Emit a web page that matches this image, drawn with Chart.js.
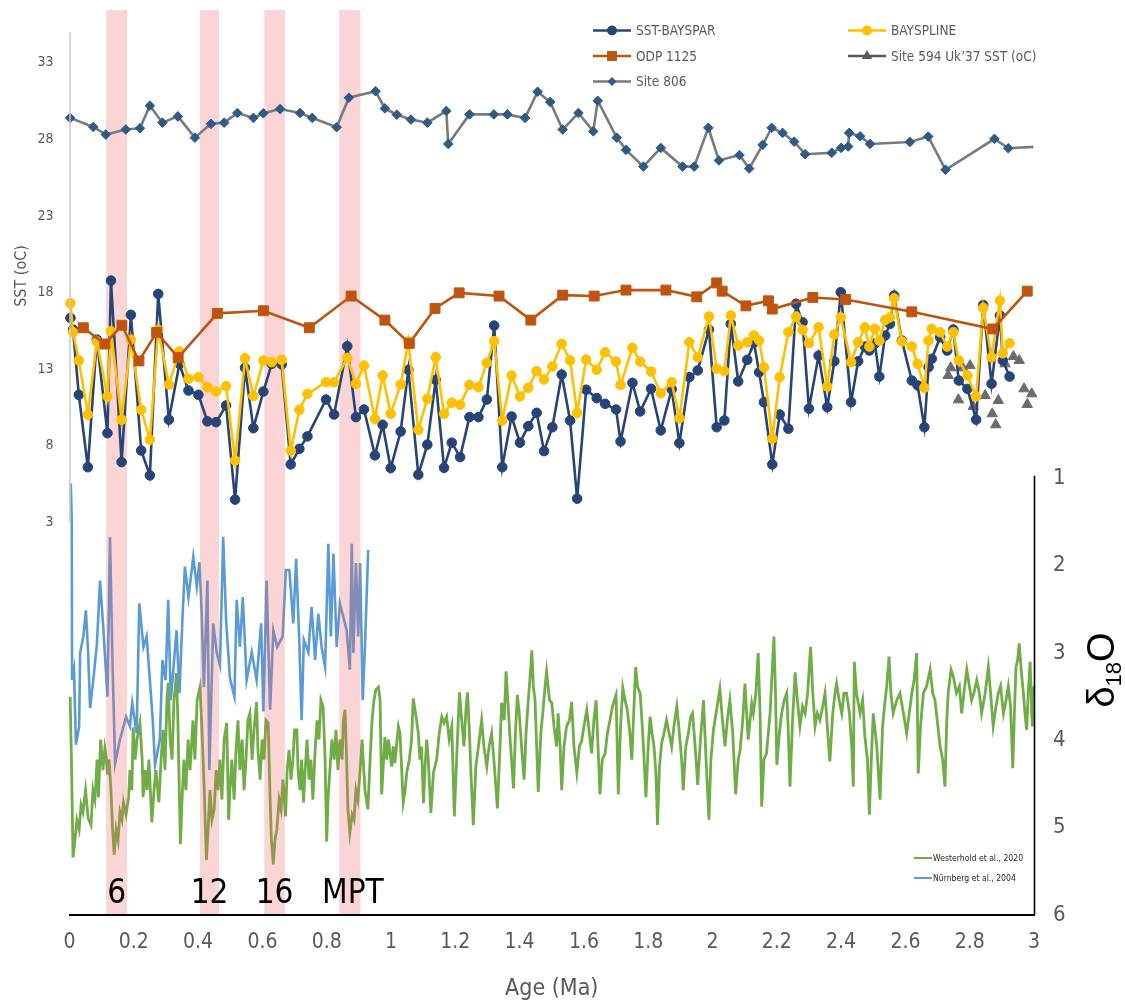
<!DOCTYPE html>
<html>
<head>
<meta charset="utf-8">
<script src="https://cdn.jsdelivr.net/npm/chart.js@4.4.1/dist/chart.umd.min.js"></script>
<style>
  html, body { margin: 0; padding: 0; background: #ffffff; }
  #wrap { width: 1125px; height: 1007px; position: relative; }
</style>
</head>
<body>
<div id="wrap"><canvas id="c" width="1125" height="1007"></canvas></div>
<script>
// ---------- UK'37 SST samples (BAYSPAR and BAYSPLINE calibrations share ages) ----------
const sampleAge = [
  0.003, 0.011, 0.029, 0.057, 0.085, 0.118, 0.129, 0.162, 0.191, 0.223,
  0.250, 0.276, 0.309, 0.342, 0.370, 0.401, 0.429, 0.456, 0.487, 0.515,
  0.546, 0.572, 0.603, 0.629, 0.660, 0.688, 0.715, 0.740, 0.798, 0.823,
  0.864, 0.891, 0.916, 0.950, 0.974, 0.999, 1.030, 1.054, 1.085, 1.113,
  1.139, 1.165, 1.189, 1.215, 1.244, 1.272, 1.298, 1.321, 1.346, 1.375,
  1.401, 1.427, 1.453, 1.476, 1.502, 1.531, 1.557, 1.579, 1.607, 1.640,
  1.666, 1.700, 1.714, 1.751, 1.775, 1.809, 1.839, 1.873, 1.897, 1.928,
  1.954, 1.989, 2.013, 2.037, 2.057, 2.080, 2.108, 2.129, 2.145, 2.160,
  2.186, 2.209, 2.236, 2.260, 2.280, 2.300, 2.330, 2.357, 2.379, 2.399,
  2.431, 2.453, 2.474, 2.488, 2.505, 2.519, 2.537, 2.552, 2.565, 2.589,
  2.620, 2.638, 2.659, 2.672, 2.682, 2.708, 2.730, 2.749, 2.766, 2.793,
  2.820, 2.842, 2.868, 2.894, 2.903, 2.924
];
const sstBayspar = [
  16.33, 15.57, 11.31, 6.58, 14.92, 8.80, 18.77, 6.91, 16.53, 7.67,
  6.04, 17.90, 9.68, 13.33, 11.59, 11.31, 9.57, 9.52, 10.61, 4.46,
  13.07, 9.13, 11.52, 13.33, 13.29, 6.76, 7.78, 8.59, 11.00, 10.02,
  14.48, 9.85, 10.35, 7.35, 9.35, 6.52, 8.91, 12.94, 6.09, 8.05,
  12.29, 6.54, 8.18, 7.24, 9.85, 9.85, 11.00, 15.83, 6.58, 9.89,
  8.18, 9.26, 10.13, 7.63, 9.19, 12.63, 9.63, 4.52, 11.64, 11.09,
  10.72, 10.35, 8.26, 12.09, 10.22, 11.70, 8.98, 11.66, 8.15, 12.46,
  12.90, 15.57, 9.19, 9.63, 15.94, 12.18, 13.59, 14.72, 12.78, 10.83,
  6.76, 10.02, 9.09, 17.25, 16.05, 10.40, 13.87, 10.50, 13.50, 18.01,
  10.83, 13.50, 14.46, 14.20, 14.66, 12.50, 15.18, 15.94, 17.79, 14.85,
  12.24, 11.92, 9.19, 13.11, 13.66, 15.07, 14.20, 15.57, 12.24, 11.70,
  9.68, 17.18, 12.03, 16.49, 13.55, 12.50
];
const sstBayspline = [
  17.29, 15.40, 13.55, 10.02, 14.79, 11.20, 15.46, 9.68, 14.90, 10.33,
  8.37, 15.55, 11.98, 14.14, 12.35, 12.46, 11.81, 11.52, 11.87, 7.02,
  13.70, 11.22, 13.55, 13.44, 13.59, 7.67, 10.33, 11.37, 12.13, 12.13,
  13.72, 12.03, 13.22, 9.74, 12.57, 10.07, 11.98, 14.79, 9.02, 11.05,
  13.76, 10.07, 10.79, 10.66, 11.96, 11.81, 13.40, 14.81, 9.63, 12.57,
  11.20, 11.77, 12.85, 12.31, 13.16, 14.64, 13.55, 10.13, 13.61, 12.94,
  14.09, 13.48, 11.96, 14.38, 13.48, 12.83, 11.41, 12.13, 9.78, 14.74,
  13.76, 16.42, 13.01, 12.85, 16.49, 14.53, 14.74, 15.18, 14.85, 13.11,
  8.44, 12.46, 15.40, 16.42, 15.55, 14.68, 15.72, 11.85, 15.25, 16.37,
  13.44, 14.74, 15.72, 14.46, 15.62, 14.85, 16.20, 16.37, 17.61, 14.79,
  14.46, 13.33, 11.77, 14.85, 15.62, 15.40, 14.46, 15.40, 13.55, 12.57,
  11.20, 16.99, 13.76, 17.46, 14.02, 14.68
];

// ---------- ODP 1125 ----------
const odpAge = [
  0.043, 0.110, 0.163, 0.216, 0.271, 0.338, 0.460, 0.603, 0.746, 0.876,
  0.981, 1.057, 1.137, 1.212, 1.336, 1.435, 1.534, 1.632, 1.731, 1.855,
  1.951, 2.013, 2.030, 2.104, 2.174, 2.186, 2.312, 2.414, 2.620, 2.872, 2.979
];
const odp1125 = [
  15.69, 14.63, 15.85, 13.52, 15.39, 13.74, 16.63, 16.80, 15.69, 17.76,
  16.19, 14.67, 16.95, 17.97, 17.76, 16.19, 17.82, 17.76, 18.15, 18.15,
  17.71, 18.62, 18.08, 17.12, 17.45, 16.91, 17.67, 17.54, 16.73, 15.61, 18.08
];

// ---------- Site 594 ----------
const site594Age = [
  2.733, 2.741, 2.765, 2.778, 2.801, 2.811, 2.848, 2.870, 2.881, 2.889,
  2.910, 2.936, 2.954, 2.969, 2.979, 2.993
];
const site594 = [
  12.57, 13.07, 10.98, 13.07, 13.22, 10.55, 11.26, 10.07, 9.35, 10.94,
  13.33, 13.81, 13.55, 11.70, 10.68, 11.37
];

// ---------- Site 806 ----------
const site806Age = [
  0.002, 0.074, 0.113, 0.175, 0.219, 0.250, 0.289, 0.337, 0.390, 0.440,
  0.481, 0.522, 0.572, 0.603, 0.655, 0.717, 0.755, 0.831, 0.869, 0.952,
  0.981, 1.018, 1.062, 1.113, 1.172, 1.178, 1.244, 1.320, 1.362, 1.417,
  1.456, 1.495, 1.534, 1.583, 1.629, 1.643, 1.702, 1.731, 1.785, 1.839,
  1.907, 1.943, 1.987, 2.020, 2.084, 2.114, 2.156, 2.184, 2.218, 2.254,
  2.288, 2.371, 2.400, 2.422, 2.425, 2.459, 2.490, 2.614, 2.671, 2.725,
  2.877, 2.920, 2.998
];
const site806 = [
  29.40, 28.81, 28.31, 28.64, 28.72, 30.20, 29.09, 29.50, 28.11, 29.01,
  29.09, 29.72, 29.40, 29.70, 29.98, 29.72, 29.40, 28.79, 30.72, 31.14,
  30.02, 29.61, 29.29, 29.09, 29.85, 27.70, 29.63, 29.63, 29.63, 29.40,
  31.11, 30.44, 28.64, 29.72, 28.52, 30.52, 28.11, 27.31, 26.22, 27.44,
  26.22, 26.22, 28.75, 26.62, 26.97, 26.09, 27.64, 28.75, 28.42, 27.85,
  27.03, 27.12, 27.44, 27.53, 28.42, 28.20, 27.70, 27.83, 28.18, 26.01,
  28.03, 27.42, 27.51
];

// ---------- Benthic d18O stack (Westerhold et al., 2020) ----------
const westerholdAge = [
  0.002, 0.006, 0.011, 0.017, 0.023, 0.030, 0.036, 0.042, 0.050, 0.058,
  0.067, 0.073, 0.079, 0.086, 0.090, 0.097, 0.104, 0.110, 0.114, 0.118,
  0.123, 0.129, 0.134, 0.139, 0.145, 0.151, 0.157, 0.163, 0.168, 0.176,
  0.184, 0.188, 0.194, 0.198, 0.204, 0.210, 0.219, 0.226, 0.229, 0.235,
  0.241, 0.247, 0.256, 0.263, 0.269, 0.278, 0.285, 0.291, 0.297, 0.303,
  0.307, 0.313, 0.319, 0.325, 0.333, 0.337, 0.345, 0.350, 0.356, 0.362,
  0.369, 0.375, 0.384, 0.390, 0.397, 0.406, 0.412, 0.418, 0.426, 0.431,
  0.437, 0.443, 0.450, 0.456, 0.462, 0.468, 0.474, 0.481, 0.489, 0.495,
  0.499, 0.505, 0.512, 0.518, 0.524, 0.530, 0.537, 0.543, 0.549, 0.555,
  0.561, 0.568, 0.574, 0.582, 0.586, 0.593, 0.599, 0.605, 0.611, 0.618,
  0.624, 0.628, 0.634, 0.639, 0.645, 0.652, 0.658, 0.664, 0.672, 0.677,
  0.683, 0.689, 0.695, 0.700, 0.707, 0.711, 0.717, 0.722, 0.728, 0.733,
  0.739, 0.745, 0.751, 0.757, 0.764, 0.770, 0.776, 0.782, 0.789, 0.795,
  0.800, 0.804, 0.810, 0.816, 0.823, 0.829, 0.835, 0.841, 0.848, 0.852,
  0.857, 0.862, 0.866, 0.872, 0.879, 0.885, 0.891, 0.897, 0.904, 0.910,
  0.913, 0.919, 0.928, 0.935, 0.941, 0.947, 0.953, 0.961, 0.966,
  0.971, 0.981, 0.987, 0.992, 1.002, 1.007, 1.012, 1.023, 1.028, 1.038,
  1.044, 1.049, 1.057, 1.064, 1.069, 1.078, 1.085, 1.090, 1.095, 1.101,
  1.106, 1.111, 1.116, 1.124, 1.132, 1.142, 1.150, 1.158, 1.165, 1.173,
  1.181, 1.189, 1.197, 1.204, 1.213, 1.220, 1.227, 1.233, 1.238, 1.244,
  1.249, 1.256, 1.264, 1.272, 1.282, 1.289, 1.298, 1.305, 1.313, 1.320,
  1.331, 1.339, 1.344, 1.352, 1.358, 1.365, 1.370, 1.375, 1.381, 1.387,
  1.393, 1.399, 1.406, 1.414, 1.420, 1.427, 1.432, 1.438, 1.443, 1.448,
  1.453, 1.458, 1.466, 1.474, 1.479, 1.484, 1.493, 1.500, 1.507, 1.515,
  1.520, 1.526, 1.531, 1.538, 1.546, 1.555, 1.562, 1.569, 1.578, 1.586,
  1.593, 1.600, 1.609, 1.617, 1.624, 1.631, 1.638, 1.644, 1.650, 1.657,
  1.666, 1.673, 1.681, 1.689, 1.700, 1.707, 1.714, 1.721, 1.728, 1.735,
  1.743, 1.749, 1.754, 1.761, 1.767, 1.775, 1.783, 1.793, 1.800, 1.806,
  1.812, 1.818, 1.824, 1.829, 1.835, 1.842, 1.849, 1.857, 1.865, 1.873,
  1.880, 1.889, 1.897, 1.904, 1.909, 1.917, 1.925, 1.932, 1.938, 1.946,
  1.954, 1.961, 1.972, 1.980, 1.989, 1.995, 2.003, 2.011, 2.023, 2.031,
  2.039, 2.046, 2.054, 2.063, 2.072, 2.080, 2.086, 2.094, 2.101, 2.111,
  2.122, 2.127, 2.135, 2.142, 2.148, 2.153, 2.160, 2.168, 2.179, 2.191,
  2.196, 2.200, 2.208, 2.215, 2.223, 2.231, 2.236, 2.241, 2.249, 2.257,
  2.264, 2.272, 2.280, 2.288, 2.296, 2.305, 2.312, 2.319, 2.326, 2.334,
  2.343, 2.350, 2.357, 2.365, 2.374, 2.381, 2.386, 2.394, 2.402, 2.409,
  2.417, 2.426, 2.433, 2.438, 2.441, 2.448, 2.459, 2.467, 2.474, 2.482,
  2.488, 2.494, 2.500, 2.511, 2.521, 2.529, 2.537, 2.542, 2.549, 2.555,
  2.562, 2.573, 2.583, 2.594, 2.604, 2.612, 2.620, 2.627, 2.635, 2.640,
  2.647, 2.656, 2.666, 2.677, 2.685, 2.692, 2.699, 2.708, 2.716, 2.723,
  2.728, 2.733, 2.742, 2.749, 2.759, 2.768, 2.775, 2.782, 2.791, 2.799,
  2.806, 2.813, 2.822, 2.830, 2.837, 2.848, 2.858, 2.865, 2.873, 2.882,
  2.889, 2.896, 2.905, 2.913, 2.920, 2.927, 2.934, 2.939, 2.944, 2.949,
  2.954, 2.961, 2.967, 2.972, 2.977, 2.982, 2.988, 2.993, 2.995, 2.998,
  3.000
];
const westerhold = [
  3.50, 4.22, 5.34, 5.14, 4.91, 5.02, 4.74, 4.82, 4.57, 4.89,
  4.97, 4.57, 4.68, 4.22, 4.65, 3.99, 4.34, 4.09, 4.19, 4.39,
  4.22, 4.57, 5.02, 5.31, 5.02, 5.14, 4.82, 4.91, 4.71, 4.85,
  4.65, 4.34, 4.57, 3.85, 4.22, 3.99, 3.80, 4.22, 4.65, 4.34,
  4.57, 4.22, 4.94, 4.57, 4.34, 4.71, 4.22, 3.88, 4.34, 3.54,
  3.34, 3.99, 4.22, 3.54, 3.23, 3.77, 5.19, 4.68, 4.22, 4.57,
  3.99, 4.34, 3.77, 4.22, 3.54, 3.39, 3.88, 4.45, 5.37, 5.02,
  4.57, 4.91, 4.79, 4.34, 4.57, 4.22, 4.68, 3.99, 3.80, 4.91,
  4.57, 4.22, 4.68, 4.11, 3.77, 4.34, 3.99, 4.57, 4.22, 3.77,
  3.69, 4.22, 3.88, 3.56, 4.11, 4.45, 3.99, 4.22, 3.77, 3.80,
  4.68, 5.14, 5.42, 5.14, 5.02, 4.68, 4.79, 4.45, 4.87, 4.34,
  4.11, 4.45, 4.22, 3.88, 3.88, 4.34, 4.57, 4.22, 4.71, 4.34,
  3.99, 4.45, 4.22, 4.68, 4.11, 3.77, 3.99, 3.54, 3.62, 4.22,
  5.16, 4.68, 4.34, 3.99, 4.22, 3.88, 4.34, 3.99, 4.22, 3.77,
  3.65, 4.22, 4.79, 5.06, 4.85, 4.91, 4.57, 4.68, 4.34, 3.99,
  4.19, 4.57, 4.79, 4.22, 3.77, 3.54, 3.42, 3.39, 3.54,
  4.62, 3.96, 4.22, 3.99, 4.30, 4.07, 4.26, 3.84, 3.92, 4.71,
  4.57, 4.37, 4.22, 3.99, 3.52, 3.73, 3.92, 4.22, 4.07, 4.72,
  4.30, 3.99, 4.22, 4.83, 4.37, 4.22, 3.92, 3.73, 3.80, 3.73,
  3.99, 3.84, 4.87, 4.22, 3.45, 3.77, 4.07, 3.65, 3.45, 3.92,
  4.41, 4.97, 4.30, 4.07, 3.77, 4.07, 4.30, 4.07, 3.92, 4.22,
  4.78, 4.07, 3.57, 3.77, 3.21, 3.65, 3.96, 4.22, 4.55, 3.92,
  3.48, 3.69, 4.07, 4.45, 3.92, 3.54, 3.31, 2.97, 3.39, 3.54,
  4.07, 4.59, 3.92, 3.61, 3.39, 3.21, 3.54, 3.57, 3.84, 4.07,
  3.69, 4.07, 4.57, 4.07, 3.84, 3.77, 3.56, 4.07, 4.37, 4.07,
  4.01, 3.84, 3.65, 3.92, 4.15, 3.77, 3.54, 4.07, 4.62, 4.22,
  4.15, 3.92, 3.77, 3.61, 3.48, 4.62, 3.84, 3.40, 3.54, 3.65,
  3.92, 4.22, 3.77, 3.16, 3.39, 3.46, 3.92, 4.65, 4.07, 3.73,
  3.92, 4.07, 4.37, 4.97, 4.30, 4.03, 3.92, 3.77, 3.92, 4.07,
  3.84, 3.61, 3.92, 4.22, 4.57, 4.07, 3.92, 3.73, 3.69, 4.07,
  4.51, 4.07, 3.54, 4.22, 4.91, 4.22, 3.88, 3.69, 3.41, 3.77,
  4.07, 3.77, 3.54, 3.92, 4.62, 4.22, 4.11, 3.77, 3.35, 3.99,
  3.58, 3.69, 3.46, 3.00, 3.69, 4.76, 4.22, 4.15, 3.69, 2.81,
  3.46, 4.28, 3.92, 3.69, 3.54, 3.46, 3.92, 4.53, 3.77, 3.22,
  3.54, 3.84, 3.61, 3.69, 3.46, 2.93, 3.46, 3.84, 3.69, 3.77,
  3.61, 3.46, 3.84, 4.24, 3.69, 3.46, 3.35, 3.54, 3.69, 3.46,
  3.46, 3.69, 4.07, 4.53, 3.10, 3.46, 3.69, 3.54, 3.96, 4.22,
  4.85, 4.22, 3.69, 4.07, 4.68, 3.84, 3.54, 3.38, 3.04, 3.46,
  3.69, 3.54, 3.46, 3.69, 3.92, 3.69, 3.46, 3.31, 3.00, 4.38,
  3.84, 3.46, 3.38, 3.19, 3.46, 3.54, 3.77, 4.07, 4.22, 4.53,
  3.84, 3.46, 3.19, 3.27, 3.46, 3.38, 3.69, 3.46, 3.19, 3.38,
  3.54, 3.46, 3.31, 3.46, 3.69, 3.46, 3.16, 3.46, 3.84, 3.61,
  3.46, 3.38, 3.69, 3.54, 3.38, 3.61, 4.32, 3.69, 3.16, 3.08,
  2.89, 3.23, 3.46, 3.69, 3.88, 3.46, 3.10, 3.69, 3.84, 3.46,
  3.38
];

// ---------- Planktic d18O (Nürnberg et al., 2004) ----------
const nurnbergAge = [
  0.004, 0.007, 0.008, 0.014, 0.020, 0.030, 0.033, 0.043, 0.051, 0.058,
  0.064, 0.074, 0.085, 0.095, 0.105, 0.118, 0.126, 0.134, 0.142, 0.157,
  0.176, 0.188, 0.195, 0.209, 0.217, 0.230, 0.240, 0.250, 0.259, 0.266,
  0.281, 0.289, 0.299, 0.307, 0.315, 0.323, 0.333, 0.342, 0.352, 0.359,
  0.370, 0.385, 0.396, 0.404, 0.411, 0.418, 0.429, 0.435, 0.447, 0.458,
  0.468, 0.478, 0.487, 0.499, 0.513, 0.520, 0.530, 0.539, 0.551, 0.567,
  0.582, 0.596, 0.603, 0.613, 0.624, 0.634, 0.646, 0.663, 0.673, 0.684,
  0.696, 0.705, 0.715, 0.722, 0.729, 0.743, 0.753, 0.764, 0.774, 0.784,
  0.795, 0.805, 0.813, 0.821, 0.831, 0.841, 0.852, 0.862, 0.872, 0.878,
  0.883, 0.891, 0.898, 0.904, 0.912, 0.919, 0.929
];
const nurnberg = [
  1.06, 1.48, 3.31, 3.19, 4.05, 3.84, 3.00, 2.81, 2.51, 3.00,
  3.63, 3.31, 2.91, 2.17, 2.70, 3.50, 1.67, 3.16, 4.26, 3.99,
  3.73, 3.84, 3.57, 3.92, 2.43, 2.93, 2.81, 3.31, 3.77, 4.28,
  3.99, 3.08, 3.31, 2.39, 3.54, 3.19, 2.74, 3.46, 2.55, 2.01,
  2.36, 1.90, 2.24, 1.96, 2.53, 3.39, 2.17, 4.34, 2.66, 3.00,
  3.14, 1.67, 2.62, 3.29, 3.50, 2.39, 2.93, 2.36, 3.31, 2.99,
  3.31, 2.66, 3.67, 2.17, 3.65, 2.74, 2.93, 2.81, 2.05, 2.05,
  2.66, 1.92, 2.89, 3.77, 2.85, 2.99, 2.47, 3.08, 2.55, 2.93,
  3.16, 1.75, 2.81, 1.86, 2.93, 2.43, 2.59, 2.74, 3.19, 1.75,
  3.00, 1.97, 2.81, 1.97, 3.54, 2.93, 1.82
];

// ---------- axes ----------
const ageTicks = [0, 0.2, 0.4, 0.6, 0.8, 1, 1.2, 1.4, 1.6, 1.8, 2, 2.2, 2.4, 2.6, 2.8, 3];
const ageTickLabels = ['0', '0.2', '0.4', '0.6', '0.8', '1', '1.2', '1.4', '1.6', '1.8', '2', '2.2', '2.4', '2.6', '2.8', '3'];
const sstTicks = [3, 8, 13, 18, 23, 28, 33];
const d18oTicks = [1, 2, 3, 4, 5, 6];

// ---------- highlighted intervals (Ma) ----------
const stageLabels = ['6', '12', '16', 'MPT'];
const stageStart = [0.114, 0.406, 0.606, 0.839];
const stageEnd = [0.179, 0.465, 0.670, 0.905];

// ----------------------------------------------------------------
const FONT = "'Liberation Sans Narrow', 'DejaVu Sans Condensed', 'Liberation Sans', sans-serif";
const WIDE = "'Liberation Sans', 'DejaVu Sans', sans-serif";
const pts = (xs, ys) => xs.map((x, i) => ({ x: x, y: ys[i] }));

const C_NAVY = '#264478', C_GOLD = '#FFC000', C_ODP = '#C0540F';
const C_806L = '#7A7A7A', C_806M = '#2E5A87', C_594 = '#6B6B6B';
const C_GREEN = '#70AD47', C_BLUE = '#5B9BD5';

function drawMarker(ctx, style, x, y, r, color) {
  ctx.beginPath();
  if (style === 'circle') {
    ctx.arc(x, y, r, 0, Math.PI * 2);
  } else if (style === 'rect') {
    const h = r * Math.SQRT1_2;
    ctx.rect(x - h, y - h, 2 * h, 2 * h);
  } else if (style === 'rectRot') {
    ctx.moveTo(x, y - r); ctx.lineTo(x + r, y); ctx.lineTo(x, y + r); ctx.lineTo(x - r, y); ctx.closePath();
  } else if (style === 'triangle') {
    ctx.moveTo(x, y - r); ctx.lineTo(x + r * 0.866, y + r * 0.5); ctx.lineTo(x - r * 0.866, y + r * 0.5); ctx.closePath();
  }
  ctx.fillStyle = color;
  ctx.fill();
}

const decorations = {
  id: 'decorations',
  afterDatasetDraw(chart, args) {
    // shaded intervals sit above the d18O curves and below the SST records
    if (chart.data.datasets[args.index].label !== 'Nürnberg et al., 2004') return;
    const { ctx, chartArea } = chart;
    const xs = chart.scales.x;
    ctx.save();
    ctx.fillStyle = 'rgba(240, 100, 100, 0.27)';
    stageLabels.forEach((lab, i) => {
      const x0 = xs.getPixelForValue(stageStart[i]);
      const x1 = xs.getPixelForValue(stageEnd[i]);
      ctx.fillRect(x0, 10, x1 - x0, chartArea.bottom - 1 - 10);
    });
    ctx.restore();
  },
  afterDraw(chart) {
    const { ctx, chartArea } = chart;
    const xs = chart.scales.x, yS = chart.scales.yS, yD = chart.scales.yD;
    ctx.save();

    // SST axis line (only over the SST range)
    ctx.strokeStyle = '#C8C8C8';
    ctx.lineWidth = 1.5;
    ctx.beginPath();
    ctx.moveTo(70, yS.getPixelForValue(35));
    ctx.lineTo(70, yS.getPixelForValue(3));
    ctx.stroke();

    // d18O axis line
    ctx.strokeStyle = '#000000';
    ctx.lineWidth = 1.6;
    ctx.beginPath();
    ctx.moveTo(chartArea.right + 0.5, yD.getPixelForValue(0.97));
    ctx.lineTo(chartArea.right + 0.5, chartArea.bottom);
    ctx.stroke();

    // interval labels
    ctx.fillStyle = '#000000';
    ctx.font = '33px ' + FONT;
    ctx.textAlign = 'center';
    ctx.textBaseline = 'middle';
    stageLabels.forEach((lab, i) => {
      const xc = xs.getPixelForValue((stageStart[i] + stageEnd[i]) / 2);
      ctx.fillText(lab, xc + (lab === 'MPT' ? 3 : 0), 894);
    });

    // SST legend (two columns)
    const topLegend = [
      { text: 'SST-BAYSPAR', col: 0, row: 0, line: C_NAVY, mk: 'circle', mc: C_NAVY, r: 5 },
      { text: 'BAYSPLINE', col: 1, row: 0, line: C_GOLD, mk: 'circle', mc: C_GOLD, r: 5 },
      { text: 'ODP 1125', col: 0, row: 1, line: C_ODP, mk: 'rect', mc: C_ODP, r: 7 },
      { text: 'Site 594 Uk’37 SST (oC)', col: 1, row: 1, line: '#595959', mk: 'triangle', mc: '#595959', r: 6 },
      { text: 'Site 806', col: 0, row: 2, line: C_806L, mk: 'rectRot', mc: C_806M, r: 4.5 }
    ];
    const colX = [593, 848], rowY = [30.5, 56, 81.5];
    ctx.font = '13.5px ' + FONT;
    ctx.textAlign = 'left';
    topLegend.forEach(it => {
      const x0 = colX[it.col], y = rowY[it.row];
      ctx.strokeStyle = it.line;
      ctx.lineWidth = 2.5;
      ctx.beginPath(); ctx.moveTo(x0, y); ctx.lineTo(x0 + 38, y); ctx.stroke();
      drawMarker(ctx, it.mk, x0 + 19, y, it.r, it.mc);
      ctx.fillStyle = '#595959';
      ctx.fillText(it.text, x0 + 43, y + 1);
    });

    // d18O legend
    const botLegend = [
      { text: 'Westerhold et al., 2020', color: C_GREEN, y: 858 },
      { text: 'Nürnberg et al., 2004', color: C_BLUE, y: 878 }
    ];
    ctx.font = '8.6px ' + FONT;
    botLegend.forEach(it => {
      ctx.strokeStyle = it.color;
      ctx.lineWidth = 2;
      ctx.beginPath(); ctx.moveTo(914, it.y); ctx.lineTo(932, it.y); ctx.stroke();
      ctx.fillStyle = '#262626';
      ctx.fillText(it.text, 933, it.y + 0.5);
    });

    // left axis title
    ctx.save();
    ctx.translate(22, 276);
    ctx.rotate(-Math.PI / 2);
    ctx.fillStyle = '#595959';
    ctx.font = '16px ' + FONT;
    ctx.textAlign = 'center';
    ctx.fillText('SST (oC)', 0, 0);
    ctx.restore();

    // right axis title: δ18O with subscript, reading upward
    ctx.save();
    ctx.translate(1100, 670);
    ctx.rotate(-Math.PI / 2);
    ctx.fillStyle = '#000000';
    ctx.textAlign = 'left';
    ctx.textBaseline = 'alphabetic';
    const bigF = '38px ' + WIDE, smallF = '22px ' + WIDE;
    ctx.font = bigF; const wD = ctx.measureText('δ').width; const wO = ctx.measureText('O').width;
    ctx.font = smallF; const w18 = ctx.measureText('18').width;
    const total = wD + w18 + wO;
    let cx = -total / 2;
    const base = 14;
    ctx.font = bigF; ctx.fillText('δ', cx, base); cx += wD;
    ctx.font = smallF; ctx.fillText('18', cx, base + 7); cx += w18;
    ctx.font = bigF; ctx.fillText('O', cx, base);
    ctx.restore();

    ctx.restore();
  }
};

const ctx = document.getElementById('c').getContext('2d');
new Chart(ctx, {
  type: 'line',
  data: {
    datasets: [
      { label: 'Westerhold et al., 2020', data: pts(westerholdAge, westerhold), yAxisID: 'yD',
        borderColor: C_GREEN, borderWidth: 2.8, pointRadius: 0, order: 10 },
      { label: 'Nürnberg et al., 2004', data: pts(nurnbergAge, nurnberg), yAxisID: 'yD',
        borderColor: C_BLUE, borderWidth: 2.6, pointRadius: 0, order: 9 },
      { label: 'Site 806', data: pts(site806Age, site806), yAxisID: 'yS',
        borderColor: C_806L, borderWidth: 2.6, pointStyle: 'rectRot',
        pointRadius: c => (c.dataIndex === site806Age.length - 1 ? 0 : 4.8),
        pointBackgroundColor: C_806M, pointBorderColor: C_806M, pointBorderWidth: 1, order: 5 },
      { label: 'Site 594 Uk’37 SST (oC)', data: pts(site594Age, site594), yAxisID: 'yS', showLine: false,
        pointStyle: 'triangle', pointRadius: 6, pointBackgroundColor: C_594, pointBorderColor: C_594,
        pointBorderWidth: 1, order: 4 },
      { label: 'SST-BAYSPAR', data: pts(sampleAge, sstBayspar), yAxisID: 'yS',
        borderColor: C_NAVY, borderWidth: 2.6, pointStyle: 'circle', pointRadius: 4.8,
        pointBackgroundColor: C_NAVY, pointBorderColor: C_NAVY, pointBorderWidth: 1, order: 3 },
      { label: 'BAYSPLINE', data: pts(sampleAge, sstBayspline), yAxisID: 'yS',
        borderColor: C_GOLD, borderWidth: 2.6, pointStyle: 'circle', pointRadius: 4.8,
        pointBackgroundColor: C_GOLD, pointBorderColor: C_GOLD, pointBorderWidth: 1, order: 2 },
      { label: 'ODP 1125', data: pts(odpAge, odp1125), yAxisID: 'yS',
        borderColor: C_ODP, borderWidth: 2.6, pointStyle: 'rect', pointRadius: 7,
        pointBackgroundColor: C_ODP, pointBorderColor: C_ODP, pointBorderWidth: 1, order: 1 }
    ]
  },
  options: {
    responsive: false,
    animation: false,
    devicePixelRatio: 1,
    clip: false,
    layout: { padding: { top: 31.4, left: 0, right: 0, bottom: 0 } },
    elements: { line: { tension: 0, fill: false } },
    plugins: { legend: { display: false }, tooltip: { enabled: false } },
    scales: {
      x: {
        type: 'linear', position: 'bottom', min: 0, max: 3,
        afterBuildTicks: s => { s.ticks = ageTicks.map(v => ({ value: v })); },
        afterFit: s => { s.height = 92; },
        grid: { display: false, drawTicks: false },
        border: { display: true, color: '#000000', width: 2 },
        ticks: { color: '#595959', font: { family: FONT, size: 21 }, padding: 15,
                 maxRotation: 0, autoSkip: false, callback: (v, i) => ageTickLabels[i] },
        title: { display: true, text: 'Age (Ma)', color: '#595959',
                 font: { family: FONT, size: 23 }, padding: { top: 0, bottom: 4 } }
      },
      yS: {
        type: 'linear', position: 'left', min: -22.68, max: 35,
        afterBuildTicks: s => { s.ticks = sstTicks.map(v => ({ value: v })); },
        afterFit: s => { s.width = 69.5; },
        grid: { display: false, drawTicks: false },
        border: { display: false },
        ticks: { color: '#595959', font: { family: FONT, size: 14 }, padding: 16 }
      },
      yD: {
        type: 'linear', position: 'right', min: -4.11, max: 6, reverse: true,
        afterBuildTicks: s => { s.ticks = d18oTicks.map(v => ({ value: v })); },
        afterFit: s => { s.width = 91; },
        grid: { display: false, drawTicks: false },
        border: { display: false },
        ticks: { color: '#595959', font: { family: FONT, size: 22 }, padding: 19 }
      }
    }
  },
  plugins: [decorations]
});
</script>
</body>
</html>
